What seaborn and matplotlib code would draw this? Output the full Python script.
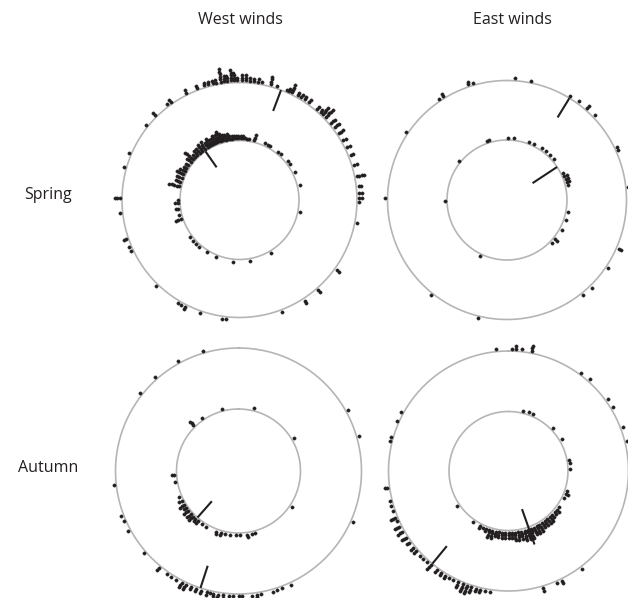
import numpy as np
import pandas as pd
import matplotlib
matplotlib.use('Agg')
import matplotlib.pyplot as plt
import seaborn as sns

sns.set_theme(style='white')
plt.rcParams['font.family'] = ['Open Sans', 'DejaVu Sans']

# bearings (deg, clockwise from north) and number of records stacked at each
# West winds, Spring
ws_out_deg = [1, 3, 5, 7, 9, 11, 15, 18, 23.5, 24.5, 26, 29, 31, 33, 35.5, 40.5, 42.5, 44, 46, 50,
              52.5, 56, 60, 64, 68, 73, 78.5, 83.5, 86.5, 89, 91, 101, 126, 139, 147, 159, 186.5,
              188.5, 199, 207, 209, 211, 224, 245, 247, 251, 264, 271, 286, 293, 308.5, 315, 323,
              325, 333.5, 339, 343, 345, 347, 348.5, 351, 352.8, 354, 356, 357.3, 358.6]
ws_out_n = [3, 3, 2, 2, 2, 1, 4, 1, 1, 2, 4, 2, 2, 2, 2, 2, 2, 4, 5, 3,
            3, 3, 2, 2, 2, 2, 4, 2, 2, 2, 1, 1, 2, 2, 2, 1, 1,
            1, 1, 2, 1, 1, 1, 1, 1, 2, 1, 3, 1, 1, 1, 2, 1,
            2, 2, 2, 2, 2, 2, 2, 6, 3, 3, 5, 4, 2]
ws_in_deg = [252, 256, 262, 267, 270, 283, 287, 291, 295, 298, 301, 304, 308, 311, 314, 317, 320,
             323, 326, 329, 331, 333, 335, 337, 339, 341, 343, 345, 347, 349, 351, 353, 355, 357,
             359, 1, 3, 5, 7, 9, 14, 24, 27, 30, 39, 42, 51, 54, 63, 76, 101, 149, 170, 186, 202,
             212, 221, 225, 228, 233]
ws_in_n = [3, 1, 2, 2, 1, 5, 3, 3, 4, 3, 2, 2, 3, 5, 2, 3, 3,
           4, 4, 3, 4, 3, 3, 4, 4, 5, 4, 3, 3, 3, 2, 2, 2, 2,
           2, 2, 2, 1, 1, 1, 3, 1, 1, 1, 1, 1, 1, 1, 1, 1, 1, 1, 1, 1, 1,
           1, 1, 1, 1, 1]

# East winds, Spring
es_out_deg = [3.8, 11.4, 31, 36, 41, 46, 64, 66, 84, 113.5, 124, 136, 141.5, 194, 218.5, 271, 304,
              326, 328.5, 341.5, 344]
es_out_n = [1, 1, 1, 1, 2, 1, 1, 1, 1, 2, 1, 1, 1, 1, 1, 1, 1, 1, 2, 2, 1]
es_in_deg = [341, 343.5, 1, 6.5, 21, 26, 34, 38.5, 44, 49, 64, 67, 70, 73, 76, 101, 109, 119, 129,
             134, 206, 269, 309]
es_in_n = [1, 1, 1, 1, 1, 1, 1, 1, 1, 1, 1, 2, 2, 2, 1, 1, 1, 1, 2, 1, 1, 1, 1]

# West winds, Autumn
wa_out_deg = [343.5, 331, 318.5, 308.5, 263.5, 249, 246.5, 241.5, 229, 219.5, 215, 212.5, 210, 207,
              205, 202.5, 200, 197.5, 194.5, 193, 191.5, 189.5, 187, 184.5, 182.5, 180, 178.5, 174,
              171.5, 169.5, 164, 162, 159.5, 155.5, 114, 74, 61]
wa_out_n = [1, 1, 1, 1, 1, 1, 1, 1, 1, 2, 1, 1, 1, 3, 3, 2, 2, 2, 2, 1, 2, 2, 2, 2, 2, 2, 1, 1,
            2, 1, 1, 1, 1, 1, 1, 1, 1]
wa_in_deg = [345.5, 13.5, 59, 124, 326, 315.5, 266.5, 260.5, 246.5, 242, 238, 235, 232, 228, 225,
             222, 219, 214, 210, 200, 196, 192, 188, 182, 179, 172, 168, 165]
wa_in_n = [1, 1, 1, 1, 1, 3, 2, 1, 1, 2, 3, 2, 3, 3, 3, 2, 2, 1, 1, 2, 2, 1, 1, 1, 1, 2, 1, 1]

# East winds, Autumn
ea_out_deg = [354, 1.5, 3.5, 6.5, 11, 36.5, 41.5, 54, 58.5, 69, 76, 143, 154, 156.5, 163.5, 188.5,
              191, 193.5, 195.5, 198, 200, 202, 204.5, 207, 209, 211, 213.5, 216, 219.5, 222, 224,
              226, 229, 231, 234, 237, 240, 243, 246, 247.5, 251, 253.5, 256, 262, 284, 286, 294,
              299]
ea_out_n = [1, 1, 2, 1, 3, 1, 1, 1, 1, 1, 1, 1, 2, 1, 2, 1,
            1, 2, 2, 3, 4, 4, 3, 1, 1, 2, 2, 2, 3, 1, 1,
            1, 2, 2, 2, 3, 3, 3, 1, 3, 1, 1, 1, 2, 1, 1, 1,
            1]
ea_in_deg = [14, 19, 23, 46, 59, 80, 83, 88.5, 109, 112, 116, 126, 129, 132, 135, 138, 141, 144,
             147, 150, 153, 156, 159, 162, 165, 168, 171, 174, 177, 180, 183, 186, 189, 192, 195,
             198, 201, 204, 207, 215, 236]
ea_in_n = [1, 1, 1, 1, 1, 1, 1, 1, 1, 2, 1, 1, 2, 2, 2, 3, 3, 3,
           3, 4, 4, 4, 5, 5, 5, 4, 4, 4, 3, 3, 3, 3, 3, 3, 4,
           4, 2, 1, 2, 1, 1]

# mean direction (deg) and extent of the mean line (fraction of ring radius)
mean_dir = {'ws': (20.7, 325), 'es': (31.5, 56.6), 'wa': (198, 221.4), 'ea': (219.4, 160.5)}
mean_lo = {'ws': (0.81, 0.67), 'es': (0.81, 0.51), 'wa': (0.81, 0.65), 'ea': (0.81, 0.68)}
mean_hi = {'ws': (1.0, 1.0), 'es': (1.0, 1.0), 'wa': (1.0, 1.0), 'ea': (1.0, 1.31)}

col_labels = ['West winds', 'East winds']
row_labels = ['Spring', 'Autumn']

RMAX = 142
W, H = 628, 598
ink = '#231f20'
ring = '#b5b5b5'


def stack(deg, counts, radius):
    rows = []
    for d, n in zip(deg, counts):
        for k in range(n):
            rows.append((np.deg2rad(d), radius + 2.4 + k * 2.5))
    return pd.DataFrame(rows, columns=['theta', 'r'])


# centre (px), outer / inner ring radius (px)
panels = {
    'ws': ((239.5, 200), (117.5, 59.5), ws_out_deg, ws_out_n, ws_in_deg, ws_in_n),
    'es': ((507, 200), (119.5, 60), es_out_deg, es_out_n, es_in_deg, es_in_n),
    'wa': ((238.5, 471), (123, 62), wa_out_deg, wa_out_n, wa_in_deg, wa_in_n),
    'ea': ((508.5, 471), (120, 59.5), ea_out_deg, ea_out_n, ea_in_deg, ea_in_n),
}

fig = plt.figure(figsize=(W / 100, H / 100), dpi=100)

for key, ((cx, cy), radii, od, on, idg, inn) in panels.items():
    ax = fig.add_axes([(cx - RMAX) / W, (H - cy - RMAX) / H, 2 * RMAX / W, 2 * RMAX / H],
                      projection='polar')
    ax.set_theta_zero_location('N')
    ax.set_theta_direction(-1)
    ax.set_ylim(0, RMAX)
    ax.axis('off')

    th = np.linspace(0, 2 * np.pi, 400)
    for rad in radii:
        ax.plot(th, np.full_like(th, rad), color=ring, lw=1.2, zorder=1)

    dots = pd.concat([stack(od, on, radii[0]), stack(idg, inn, radii[1])])
    sns.scatterplot(data=dots, x='theta', y='r', ax=ax, s=5.5, color=ink,
                    edgecolor=ink, linewidth=0.35, marker='o', zorder=3, legend=False)

    for j, rad in enumerate(radii):
        t = np.deg2rad(mean_dir[key][j])
        ax.plot([t, t], [rad * mean_lo[key][j], rad * mean_hi[key][j]],
                color=ink, lw=1.5, zorder=4, solid_capstyle='butt')
    ax.set_xlabel('')
    ax.set_ylabel('')

fig.text(240 / W, 1 - 20 / H, col_labels[0], ha='center', va='center', fontsize=11.5, color=ink)
fig.text(512 / W, 1 - 20 / H, col_labels[1], ha='center', va='center', fontsize=11.5, color=ink)
fig.text(48 / W, 1 - 195 / H, row_labels[0], ha='center', va='center', fontsize=11.5, color=ink)
fig.text(48 / W, 1 - 468 / H, row_labels[1], ha='center', va='center', fontsize=11.5, color=ink)

fig.savefig('out.png', dpi=100)
